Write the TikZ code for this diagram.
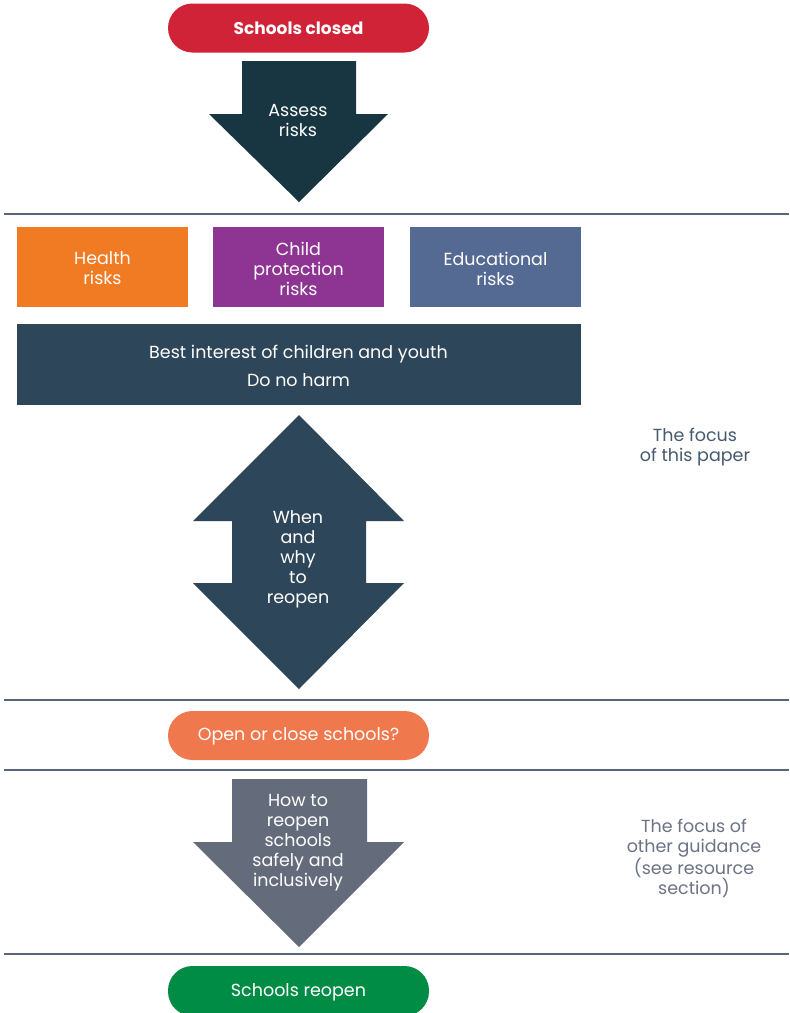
\documentclass[tikz,border=0pt]{standalone}
\usepackage{fontspec}
\setmainfont{Poppins}
\definecolor{cred}{HTML}{D12338}
\definecolor{cteal}{HTML}{183642}
\definecolor{corange}{HTML}{F07B23}
\definecolor{cpurple}{HTML}{8E3492}
\definecolor{cslate}{HTML}{556A93}
\definecolor{cnavy}{HTML}{2E4659}
\definecolor{csalmon}{HTML}{F0784D}
\definecolor{cgray}{HTML}{646B7B}
\definecolor{cgreen}{HTML}{008C45}
\definecolor{cline}{HTML}{56677A}
\definecolor{ctxtA}{HTML}{465A6E}
\definecolor{ctxtB}{HTML}{6B7385}
\begin{document}
\begin{tikzpicture}[x=1pt,y=-1pt,
  txt/.style={font=\fontsize{17.5}{20}\selectfont, align=center, inner sep=0pt},
  pill/.style={inner sep=0pt, rounded corners=24.5pt, minimum width=261pt, minimum height=49pt},
  riskbox/.style={inner sep=0pt, minimum width=171pt, minimum height=80pt},
  sep/.style={draw=cline, line width=1.2pt},
  note/.style={txt}
]
\useasboundingbox (0,0) rectangle (790,1013);
\fill[white] (0,0) rectangle (790,1013);

% top pill
\node[pill, fill=cred] (closedbox) at (298.5,28) {};
\node[txt, text=white, font=\fontsize{17}{20}\selectfont\bfseries] (closed) at (298.5,28.5) {Schools closed};

% assess arrow
\fill[cteal] (242,61) -- (356,61) -- (356,114) -- (388,114) -- (299,202) -- (209,114) -- (242,114) -- cycle;
\node[txt, text=white] (assess) at (298,120.5) {Assess\\risks};

% separator 1
\coordinate (s1a) at (4,214); \coordinate (s1b) at (789,214);
\draw[sep] (s1a) -- (s1b);

% risk boxes
\node[riskbox, fill=corange] (healthbox) at (102.5,267) {};
\node[riskbox, fill=cpurple] (childbox) at (298.5,267) {};
\node[riskbox, fill=cslate] (edubox) at (495.5,267) {};
\node[txt, text=white] (health) at (102.5,268.5) {Health\\risks};
\node[txt, text=white] (child) at (298.5,268.5) {Child\\protection\\risks};
\node[txt, text=white] (edu) at (495.5,268.5) {Educational\\risks};

% best interest
\node[fill=cnavy, inner sep=0pt, minimum width=564pt, minimum height=81pt] (bestbox) at (298.5,364.5) {};
\node[txt, text=white, font=\fontsize{17.5}{28}\selectfont] (best) at (298.5,365.5) {Best interest of children and youth\\Do no harm};

% double arrow
\fill[cnavy] (299,415) -- (404,521) -- (366,521) -- (366,583) -- (404,583) -- (299,689) -- (193,583) -- (232,583) -- (232,521) -- (193,521) -- cycle;
\node[txt, text=white] (when) at (298,559.5) {When\\and\\why\\to\\reopen};

\node[note, text=ctxtA] (focusA) at (695,447.5) {The focus\\of this paper};

% separator 2
\coordinate (s2a) at (4,700); \coordinate (s2b) at (789,700);
\draw[sep] (s2a) -- (s2b);

\node[pill, fill=csalmon] (openbox) at (298.5,735.5) {};
\node[txt, text=white] (open) at (298.5,736.5) {Open or close schools?};

% separator 3
\coordinate (s3a) at (4,770); \coordinate (s3b) at (789,770);
\draw[sep] (s3a) -- (s3b);

% how arrow
\fill[cgray] (232,779) -- (367,779) -- (367,842) -- (404,842) -- (299,947) -- (193,842) -- (232,842) -- cycle;
\node[txt, text=white] (how) at (298,842.5) {How to\\reopen\\schools\\safely and\\inclusively};

\node[note, text=ctxtB] (focusB) at (694,858.5) {The focus of\\other guidance\\(see resource\\section)};

% separator 4
\coordinate (s4a) at (4,954); \coordinate (s4b) at (789,954);
\draw[sep] (s4a) -- (s4b);

\node[pill, fill=cgreen, minimum height=50pt] (reopenbox) at (298.5,991) {};
\node[txt, text=white] (reopen) at (298.5,992) {Schools reopen};
\end{tikzpicture}
\end{document}
